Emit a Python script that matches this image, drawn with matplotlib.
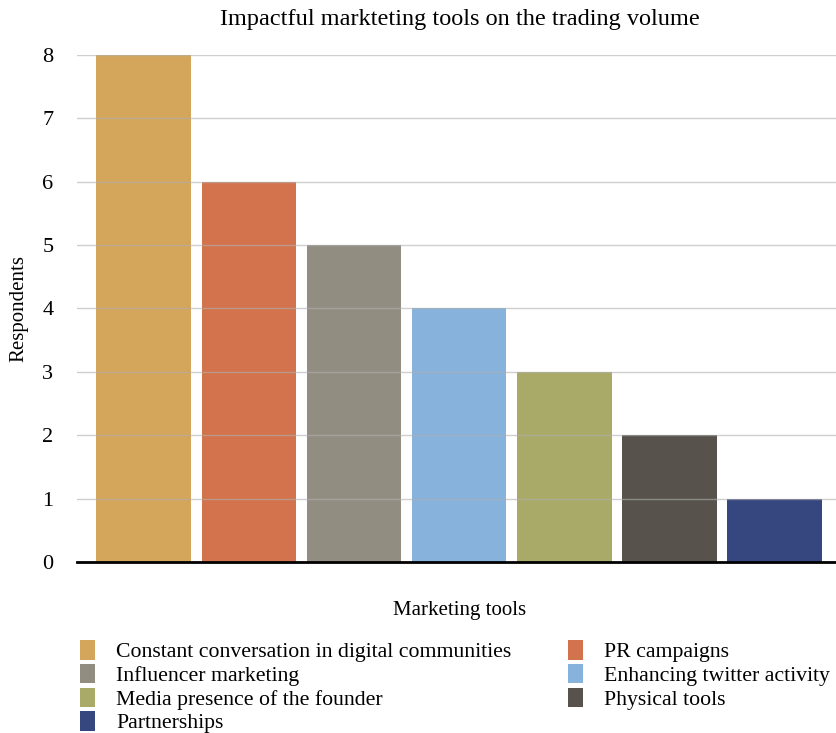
import numpy as np
import matplotlib
matplotlib.use('Agg')
import matplotlib.pyplot as plt
from matplotlib.patches import Patch

# Data
tools = ['Constant conversation in digital communities', 'PR campaigns',
         'Influencer marketing', 'Enhancing twitter activity',
         'Media presence of the founder', 'Physical tools', 'Partnerships']
respondents = [8, 6, 5, 4, 3, 2, 1]
colors = ['#D4A65C', '#D2734E', '#928D81', '#86B2DC', '#A9AA68', '#57534C', '#36467F']

plt.rcParams['font.family'] = ['Liberation Serif', 'DejaVu Serif']

fig = plt.figure(figsize=(8.37, 7.33), dpi=100)
ax = fig.add_axes([77 / 837, 1 - 562 / 733, 760 / 837, 507 / 733])

index = np.arange(len(tools))
ax.bar(index, respondents, 0.9, color=colors, zorder=2)

ax.set_xlim(-0.635, 6.595)
ax.set_ylim(0, 8)
ax.set_yticks(range(0, 9))
ax.set_xticks([])
ax.grid(axis='y', color='#b0b0b0', alpha=0.6, linewidth=1, zorder=3)
ax.set_axisbelow(False)
for s in ['top', 'right', 'left']:
    ax.spines[s].set_visible(False)
ax.spines['bottom'].set_linewidth(2)
ax.spines['bottom'].set_zorder(4)
ax.tick_params(axis='y', length=0, pad=17, labelsize=16)

fig.text(460 / 837, 1 - 20 / 733, 'Impactful markteting tools on the trading volume',
         fontsize=17.5, ha='center', va='center')
ax.set_ylabel('Respondents', fontsize=15)
ax.yaxis.set_label_coords(-0.064, 0.5)
fig.text(460 / 837, 1 - 611 / 733, 'Marketing tools', fontsize=15, ha='center', va='center')

# legend fills column-wise, so reorder to get row-wise layout
order = [0, 2, 4, 6, 1, 3, 5]
handles = [Patch(facecolor=colors[i], label=tools[i]) for i in order]
fig.legend(handles=handles, ncol=2, loc='upper left',
           bbox_to_anchor=(80 / 837, 1 - 640 / 733), frameon=False,
           fontsize=15.7, handlelength=0.69, handleheight=1.0,
           handletextpad=0.96, columnspacing=2.6, labelspacing=0.07,
           borderaxespad=0, borderpad=0)

fig.savefig('out.png', dpi=100)
